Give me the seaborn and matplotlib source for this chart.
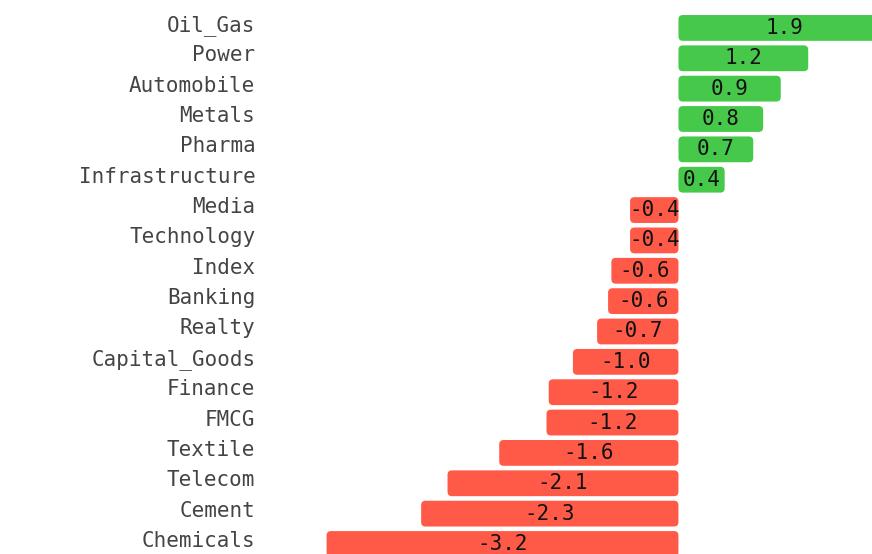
import matplotlib
matplotlib.use("Agg")
import matplotlib.pyplot as plt
import matplotlib.transforms as mtransforms
import pandas as pd
import seaborn as sns
from matplotlib.patches import FancyBboxPatch

sectors = [
    "Oil_Gas", "Power", "Automobile", "Metals", "Pharma", "Infrastructure",
    "Media", "Technology", "Index", "Banking", "Realty", "Capital_Goods",
    "Finance", "FMCG", "Textile", "Telecom", "Cement", "Chemicals",
]
changes = [
    1.92, 1.18, 0.93, 0.77, 0.68, 0.42,
    -0.44, -0.44, -0.61, -0.64, -0.74, -0.96,
    -1.18, -1.2, -1.63, -2.1, -2.34, -3.2,
]
GREEN = "#46c94a"
RED = "#ff5a48"

frame = pd.DataFrame({"sector": sectors, "change": changes})
frame["sign"] = ["up" if v >= 0 else "down" for v in changes]

sns.set_style("white")
plt.rcParams["font.family"] = ["DejaVu Sans Mono"]

fig = plt.figure(figsize=(8.72, 5.54), dpi=100)
ax = fig.add_axes([265 / 872, 0, 607 / 872, 1])
sns.barplot(
    data=frame, x="change", y="sector", hue="sign", order=sectors,
    palette={"up": GREEN, "down": RED}, dodge=False, legend=False,
    width=0.85, saturation=1, ax=ax,
)

ax.set_xlim(-3.76, 1.76)
ax.set_ylim(17.33, -0.92)

# swap plain rectangles for slightly rounded ones
px_x = 607 / 5.52
px_y = 554 / 18.25
for bar in list(ax.patches):
    x, y = bar.get_x(), bar.get_y()
    w, h = bar.get_width(), bar.get_height()
    if w < 0:
        x, w = x + w, -w
    rounded = FancyBboxPatch(
        (x, y), w, h, boxstyle="round,pad=0,rounding_size=0.04",
        mutation_aspect=px_x / px_y, facecolor=bar.get_facecolor(),
        edgecolor="none", clip_on=True,
    )
    bar.remove()
    ax.add_patch(rounded)

for i, v in enumerate(changes):
    ax.text(v / 2, i, f"{v:.1f}", ha="center", va="center",
            fontsize=15, color="#111111")

ax.set_xlabel("")
ax.set_ylabel("")
ax.set_xticks([])
ax.tick_params(axis="y", length=0, pad=7, labelsize=15, labelcolor="#444444")

# sector names sit a little above the bar centres
shift = mtransforms.ScaledTranslation(0, 5 / 100, fig.dpi_scale_trans)
for label in ax.get_yticklabels():
    label.set_transform(label.get_transform() + shift)

sns.despine(ax=ax, left=True, bottom=True)

fig.savefig("out.png", dpi=100)
